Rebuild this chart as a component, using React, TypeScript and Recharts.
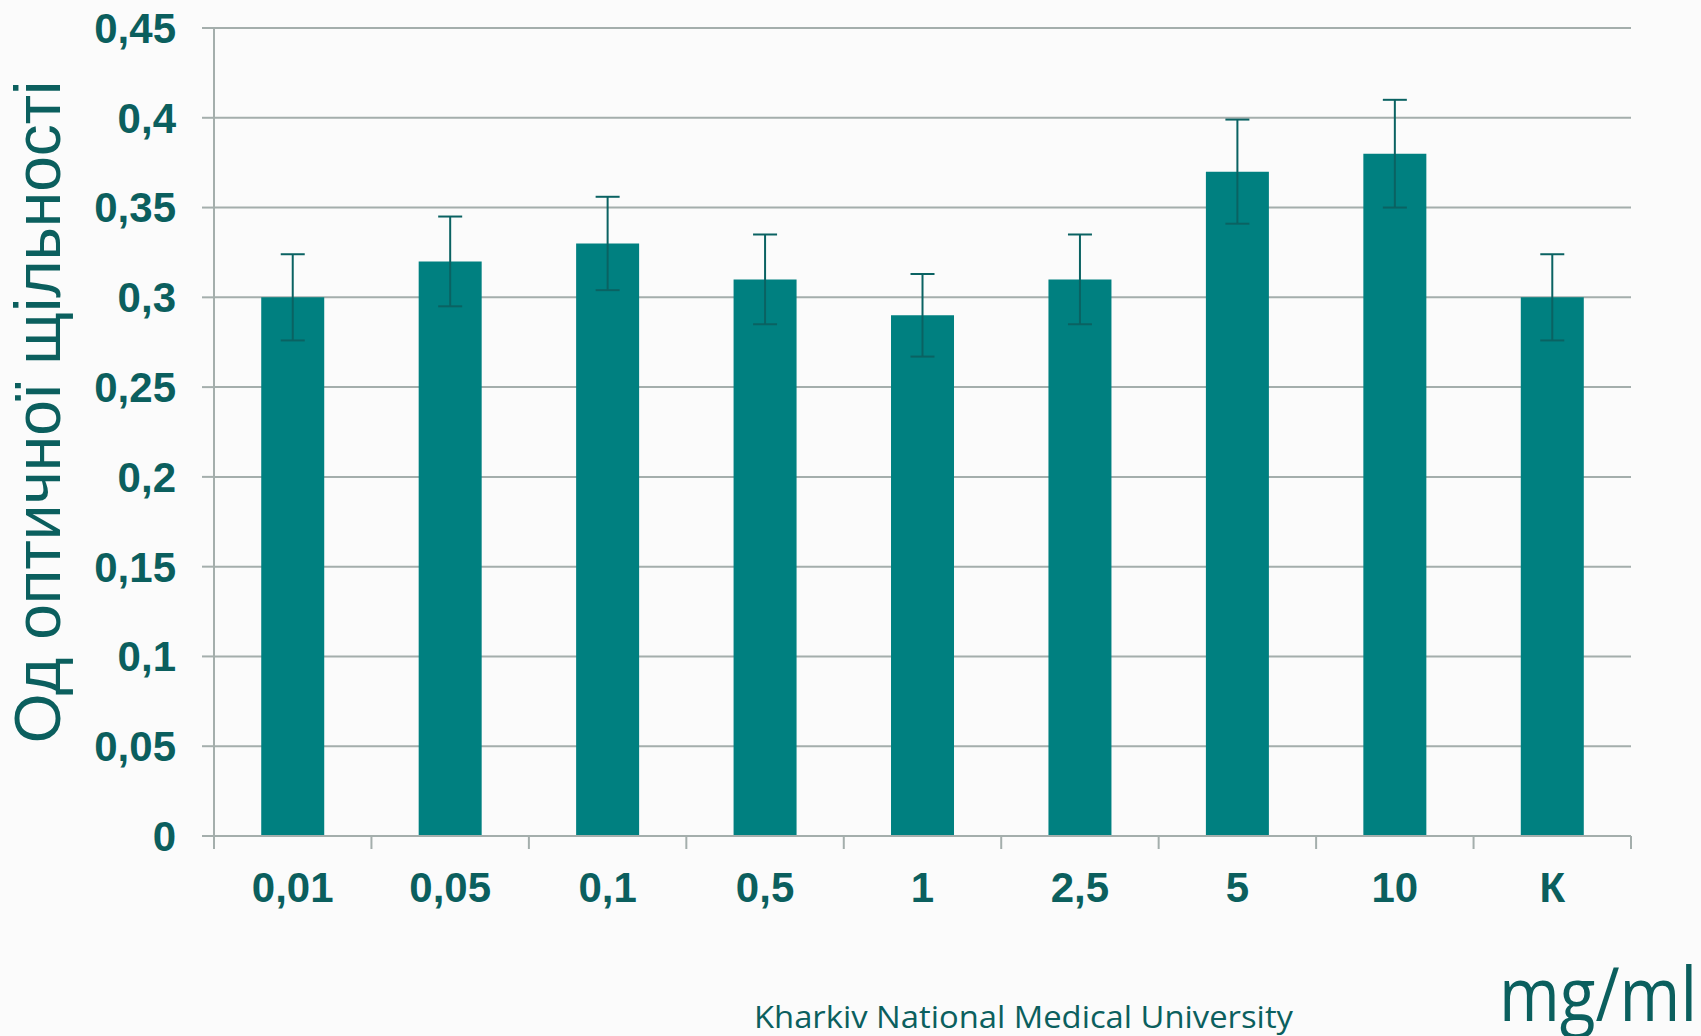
import React from 'react'
import { BarChart, Bar, XAxis, YAxis, CartesianGrid, ErrorBar } from 'recharts'

const categories = ['0,01', '0,05', '0,1', '0,5', '1', '2,5', '5', '10', 'К']
const values = [0.3, 0.32, 0.33, 0.31, 0.29, 0.31, 0.37, 0.38, 0.3]
const errors = [0.024, 0.025, 0.026, 0.025, 0.023, 0.025, 0.029, 0.03, 0.024]
const yTicks = [0, 0.05, 0.1, 0.15, 0.2, 0.25, 0.3, 0.35, 0.4, 0.45]

const data = categories.map((name, i) => ({ name, value: values[i], err: errors[i] }))

const TEXT = '#0b5f5e'
const GRID = '#a4aeac'
const BAR = '#008080'
const ERR = '#0a6262'
const BG = '#fbfbfb'

const fmt = (v: number) => String(v).replace('.', ',')

function XTick(props: any) {
  const { x, y, payload, index } = props
  const half = payload.offset || 0
  return (
    <g>
      <line x1={x - half} x2={x - half} y1={y} y2={y + 13} stroke={GRID} strokeWidth={2} />
      {index === categories.length - 1 && (
        <line x1={x + half} x2={x + half} y1={y} y2={y + 13} stroke={GRID} strokeWidth={2} />
      )}
      <text
        x={x}
        y={y + 66}
        textAnchor="middle"
        fill={TEXT}
        fontSize={42}
        fontWeight="bold"
        fontFamily="'Liberation Sans', Arial, sans-serif"
      >
        {payload.value}
      </text>
    </g>
  )
}

export default function App() {
  return (
    <div style={{ position: 'absolute', left: 0, top: 0, width: 1701, height: 1036, background: BG }}>
      <BarChart
        width={1701}
        height={1036}
        data={data}
        margin={{ top: 28, right: 70, left: 0, bottom: 0 }}
        barCategoryGap="30%"
      >
        <CartesianGrid vertical={false} stroke={GRID} strokeWidth={2} />
        <XAxis
          dataKey="name"
          height={200}
          axisLine={{ stroke: GRID, strokeWidth: 2 }}
          tickLine={false}
          tickSize={0}
          tickMargin={0}
          interval={0}
          tick={<XTick />}
        />
        <YAxis
          width={214}
          domain={[0, 0.45]}
          ticks={yTicks}
          tickFormatter={fmt}
          axisLine={{ stroke: GRID, strokeWidth: 2 }}
          tickLine={{ stroke: GRID, strokeWidth: 2 }}
          tickSize={12}
          tickMargin={26}
          tick={{
            fill: TEXT,
            fontSize: 42,
            fontWeight: 'bold',
            fontFamily: "'Liberation Sans', Arial, sans-serif",
          }}
        />
        <Bar dataKey="value" fill={BAR} isAnimationActive={false}>
          <ErrorBar dataKey="err" width={12} strokeWidth={2} stroke={ERR} isAnimationActive={false} />
        </Bar>
      </BarChart>
      <svg
        width={1701}
        height={1036}
        style={{ position: 'absolute', left: 0, top: 0, pointerEvents: 'none' }}
      >
        <text
          transform="translate(60,412) rotate(-90)"
          textAnchor="middle"
          fill={TEXT}
          fontSize={64}
          fontFamily="'Liberation Sans', Arial, sans-serif"
        >
          Од оптичної щільності
        </text>
        <text
          x={754}
          y={1028}
          fill={TEXT}
          fontSize={31}
          fontFamily="'Open Sans', sans-serif"
          textLength={539}
          lengthAdjust="spacingAndGlyphs"
        >
          Kharkiv National Medical University
        </text>
        <text
          x={1499}
          y={1021}
          fill={TEXT}
          fontSize={75}
          fontFamily="'Open Sans', sans-serif"
          textLength={198}
          lengthAdjust="spacingAndGlyphs"
        >
          mg/ml
        </text>
      </svg>
    </div>
  )
}
